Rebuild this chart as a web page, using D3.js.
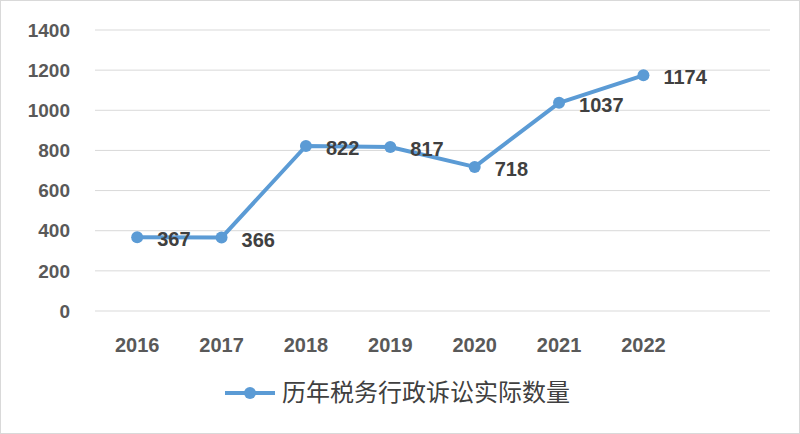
<!DOCTYPE html>
<html><head><meta charset="utf-8">
<script src="https://cdn.jsdelivr.net/npm/d3@7"></script>
<style>body{margin:0;background:#fff}</style></head>
<body><svg id="c" width="800" height="434"></svg>
<script>
const years = ["2016","2017","2018","2019","2020","2021","2022"];
const values = [367,366,822,817,718,1037,1174];
const yTicks = [0,200,400,600,800,1000,1200,1400];
const seriesName = "历年税务行政诉讼实际数量";

const svg = d3.select("#c");
svg.append("rect").attr("x",0.5).attr("y",0.5).attr("width",799).attr("height",433)
  .attr("fill","#fff").attr("stroke","#d9d9d9");
const L=95,R=770,T=30,B=311;
const x = d3.scaleLinear().domain([0,8]).range([L,R]);
const y = d3.scaleLinear().domain([0,1400]).range([B,T]);
const font = "Liberation Sans, Arial, sans-serif";

svg.append("g").selectAll("line").data(yTicks).join("line")
  .attr("x1",L).attr("x2",R).attr("y1",d=>y(d)).attr("y2",d=>y(d))
  .attr("stroke","#d9d9d9").attr("stroke-width",1);
svg.append("g").selectAll("text").data(yTicks).join("text")
  .attr("x",70).attr("y",d=>y(d)).attr("dy","0.35em").attr("text-anchor","end")
  .attr("font-family",font).attr("font-size",19).attr("font-weight","bold").attr("fill","#595959")
  .text(d=>d);
svg.append("g").selectAll("text").data(years).join("text")
  .attr("x",(d,i)=>x(i+0.5)).attr("y",352).attr("text-anchor","middle")
  .attr("font-family",font).attr("font-size",20).attr("font-weight","bold").attr("fill","#595959")
  .text(d=>d);

const color="#5B9BD5";
const line=d3.line().x((d,i)=>x(i+0.5)).y(d=>y(d));
svg.append("path").datum(values).attr("d",line).attr("fill","none")
  .attr("stroke",color).attr("stroke-width",4).attr("stroke-linejoin","round");
svg.append("g").selectAll("circle").data(values).join("circle")
  .attr("cx",(d,i)=>x(i+0.5)).attr("cy",d=>y(d)).attr("r",6).attr("fill",color);
svg.append("g").selectAll("text").data(values).join("text")
  .attr("x",(d,i)=>x(i+0.5)+20).attr("y",d=>y(d)+2).attr("dy","0.35em")
  .attr("font-family",font).attr("font-size",20).attr("font-weight","bold").attr("fill","#404040")
  .text(d=>d);

svg.append("line").attr("x1",225).attr("x2",275).attr("y1",393).attr("y2",393)
  .attr("stroke",color).attr("stroke-width",4);
svg.append("circle").attr("cx",250).attr("cy",393).attr("r",6).attr("fill",color);
svg.append("text").attr("x",282).attr("y",393).attr("dy","0.35em")
  .attr("font-family","Noto Sans CJK SC").attr("font-size",24).attr("fill","#404040")
  .text(seriesName);
</script></body></html>
